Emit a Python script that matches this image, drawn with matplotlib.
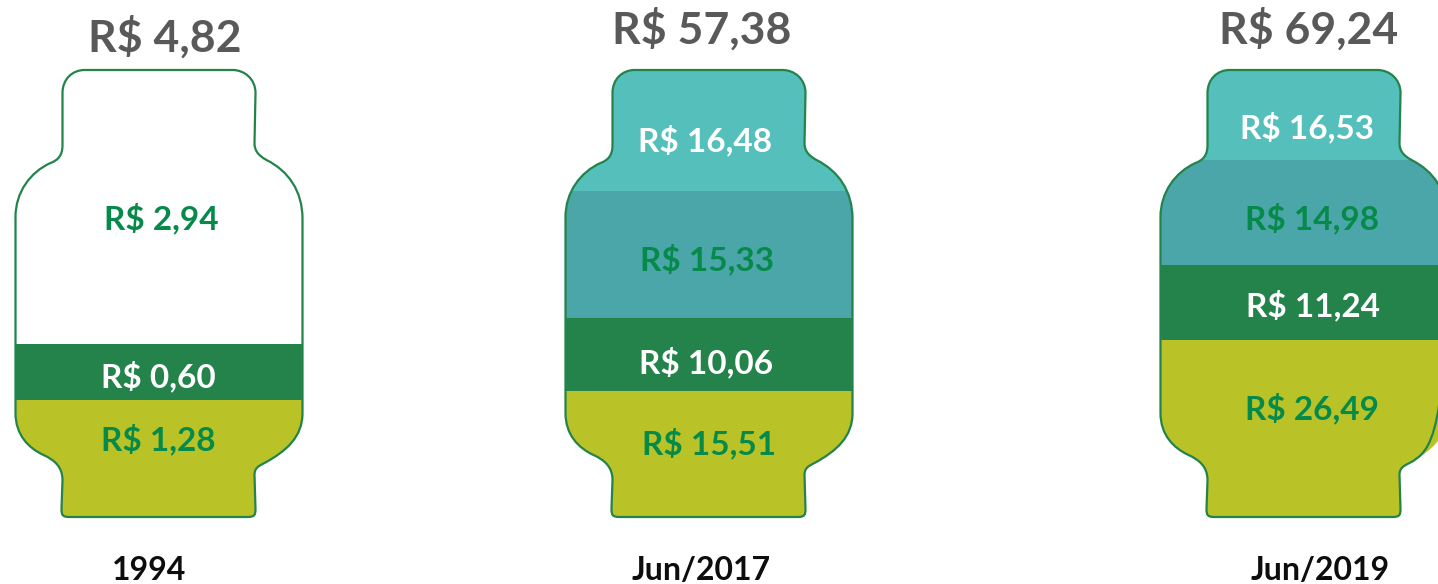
import matplotlib
matplotlib.use('Agg')
import matplotlib.pyplot as plt
from matplotlib.path import Path
from matplotlib.patches import PathPatch

plt.rcParams['font.family'] = ['Lato', 'DejaVu Sans']

periods = ['1994', 'Jun/2017', 'Jun/2019']
totals = ['R$ 4,82', 'R$ 57,38', 'R$ 69,24']

# price parts, bottom to top
parts_1994 = ['R$ 1,28', 'R$ 0,60', 'R$ 2,94']
parts_2017 = ['R$ 15,51', 'R$ 10,06', 'R$ 15,33', 'R$ 16,48']
parts_2019 = ['R$ 26,49', 'R$ 11,24', 'R$ 14,98', 'R$ 16,53']

# drawn band heights (not proportional to the prices)
bands_1994 = [117, 56, 274]
bands_2017 = [126, 73, 127, 121]
bands_2019 = [177, 75, 105, 90]

# layout
centers = [158.5, 708.5, 1303.5]
total_x = [165, 701.5, 1309]
total_y = [480, 488, 488]
period_x = [149, 701, 1320]
label_x = [[158, 158, 161], [709, 706, 707, 705], [1312, 1313, 1312, 1307]]
label_y = [[78, 141, 299], [74, 155, 258, 377], [109, 212, 299, 390]]

band_colors = ['#B9C327', '#23834B', '#4AA6A9', '#55BFBB']
band_colors_1994 = ['#B9C327', '#23834B', '#FFFFFF']
label_colors = ['#068A4A', '#FFFFFF', '#068A4A', '#FFFFFF']
outline = '#23834B'


def cylinder(cx):
    # y counts up from the bottom of the cylinder, each segment is (code, points)
    segments = [
        (Path.MOVETO, [(-89, 0)]),
        (Path.CURVE4, [(-96, 0), (-97, 2), (-97, 8)]),
        (Path.LINETO, [(-96, 37)]),
        (Path.CURVE4, [(-96, 50), (-104, 57), (-115, 62)]),
        (Path.CURVE4, [(-130, 69), (-143, 82), (-143, 104)]),
        (Path.LINETO, [(-143, 300)]),
        (Path.CURVE4, [(-143, 325), (-128, 345), (-108, 354)]),
        (Path.CURVE4, [(-100, 357), (-96, 362), (-96, 372)]),
        (Path.LINETO, [(-96, 424)]),
        (Path.CURVE4, [(-96, 438), (-86, 447), (-74, 447)]),
        (Path.LINETO, [(74, 447)]),
        (Path.CURVE4, [(86, 447), (97, 438), (97, 424)]),
        (Path.LINETO, [(96, 374)]),
        (Path.CURVE4, [(96, 367), (99, 362), (108, 357)]),
        (Path.CURVE4, [(130, 346), (144, 326), (144, 298)]),
        (Path.LINETO, [(144, 104)]),
        (Path.CURVE4, [(144, 80), (128, 66), (106, 54)]),
        (Path.CURVE4, [(100, 51), (96, 49), (96, 42)]),
        (Path.LINETO, [(97, 8)]),
        (Path.CURVE4, [(97, 2), (96, 0), (89, 0)]),
        (Path.LINETO, [(-89, 0)]),
    ]
    verts = []
    codes = []
    for code, pts in segments:
        for x, y in pts:
            verts.append((cx + x, y))
            codes.append(code)
    return Path(verts, codes)


fig = plt.figure(figsize=(14.38, 5.84), dpi=100)
ax = fig.add_axes([0, 0, 1, 1])
ax.set_xlim(0, 1438)
ax.set_ylim(-67, 517)
ax.axis('off')

all_bands = [bands_1994, bands_2017, bands_2019]
all_parts = [parts_1994, parts_2017, parts_2019]

for i in range(3):
    cx = centers[i]
    body = PathPatch(cylinder(cx), facecolor='none', edgecolor='none')
    ax.add_patch(body)
    colors = band_colors_1994 if i == 0 else band_colors
    bottom = 0
    for h, c in zip(all_bands[i], colors):
        bar = ax.bar(cx, h, width=300, bottom=bottom, color=c, linewidth=0)[0]
        bar.set_clip_path(body)
        bottom += h
    ax.add_patch(PathPatch(cylinder(cx), facecolor='none', edgecolor=outline, linewidth=1.6))

    for j, txt in enumerate(all_parts[i]):
        ax.text(label_x[i][j], label_y[i][j], txt, color=label_colors[j], fontsize=24,
                fontweight='bold', ha='center', va='center')

    ax.text(total_x[i], total_y[i], totals[i], color='#595959', fontsize=32,
            fontweight='bold', ha='center', va='center')
    ax.text(period_x[i], -53, periods[i], color='#0D0D0D', fontsize=23,
            fontweight='bold', ha='center', va='center')

fig.savefig('out.png', dpi=100, facecolor='white')
